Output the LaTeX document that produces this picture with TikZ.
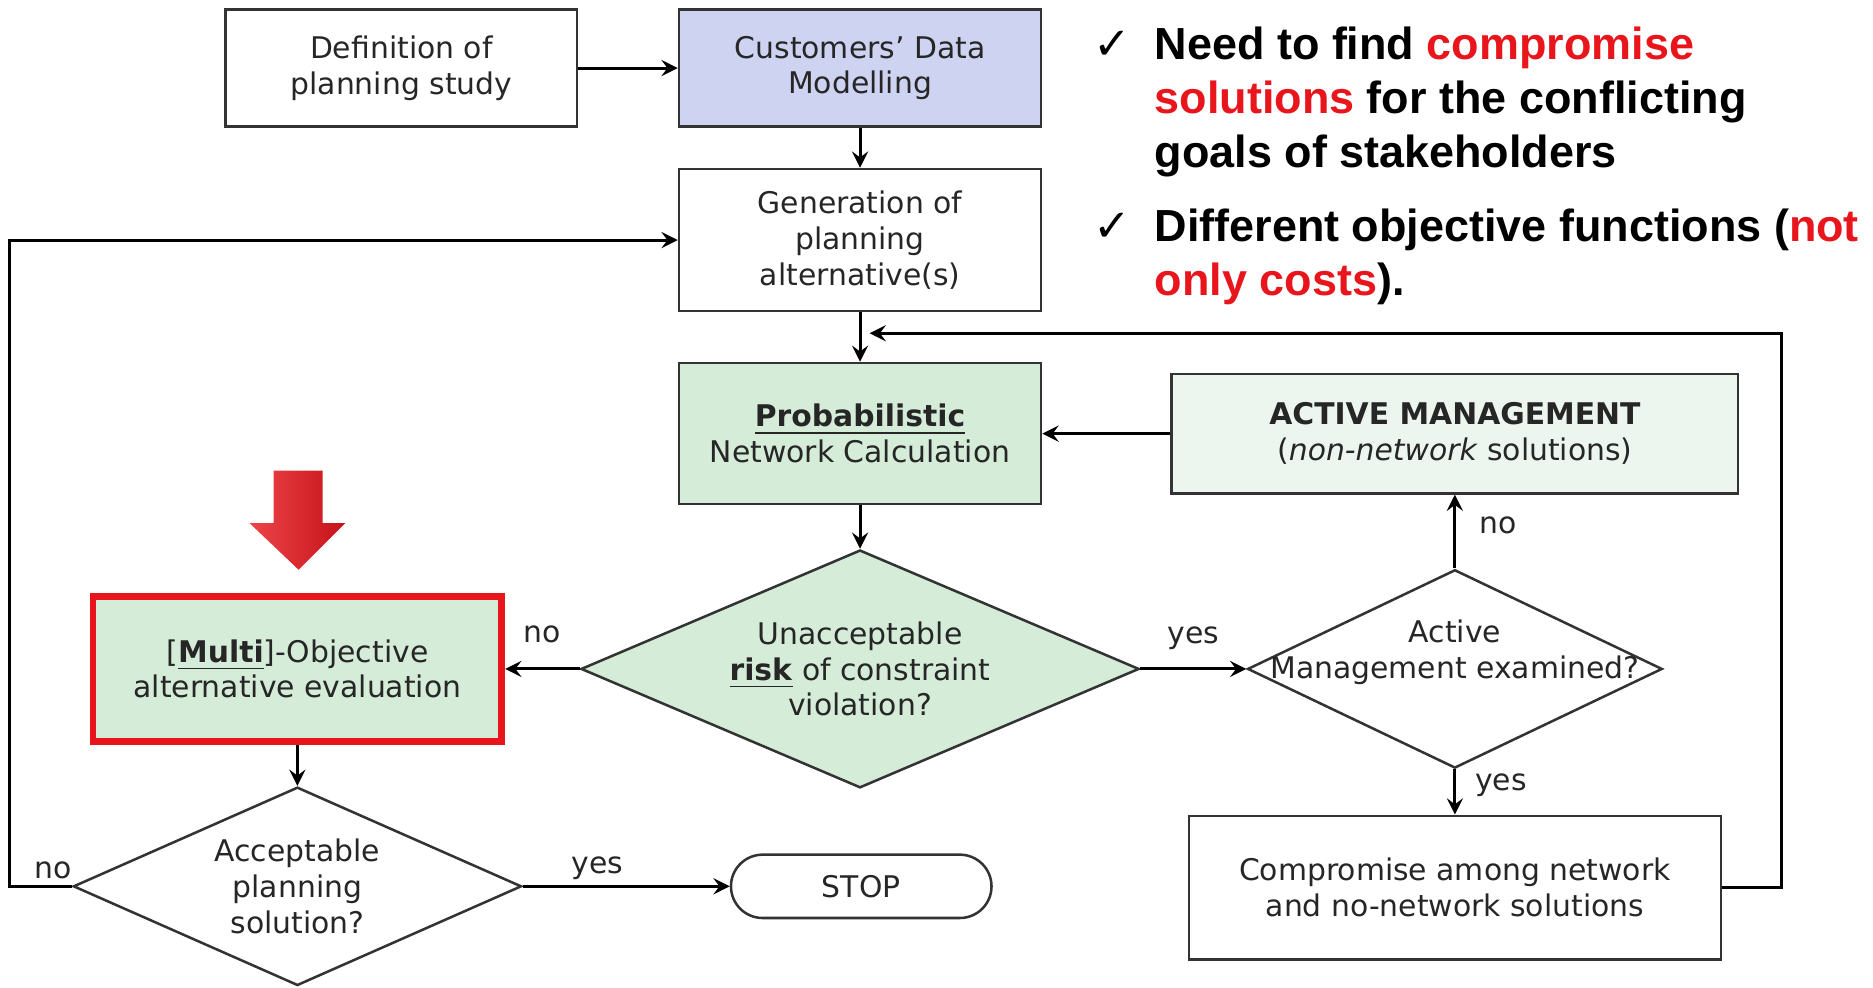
\documentclass[tikz,border=0pt]{standalone}
\usepackage{fontspec}
\setmainfont{DejaVu Sans}
\newfontfamily\notefont{Liberation Sans}
\usetikzlibrary{shapes.geometric, arrows}
\definecolor{lavender}{RGB}{205,211,240}
\definecolor{calcgreen}{RGB}{212,236,216}
\definecolor{palegreen}{RGB}{236,246,238}
\definecolor{alertred}{RGB}{232,22,28}
\tikzstyle{process} = [rectangle, draw=black!80, line width=0.6pt, align=center, inner sep=0pt, text=black!85]
\tikzstyle{decision} = [diamond, draw=black!80, line width=0.6pt, inner sep=0pt]
\tikzstyle{startstop} = [rectangle, rounded corners=0.265cm, draw=black!80, line width=0.6pt, text=black!85]
\tikzstyle{note} = [align=left, inner sep=0pt, anchor=north west, font=\notefont\bfseries\fontsize{10.7}{12.8}\selectfont]
\tikzstyle{answer} = [text=black!85]
\tikzstyle{edge} = [line width=0.7pt, ->, >=stealth]

\begin{document}
\begin{tikzpicture}[x=0.01cm, y=-0.01cm, font=\fontsize{7.1}{8.5}\selectfont]
\useasboundingbox (0,0) rectangle (1568,827);

\node (def) [process, minimum width=2.94cm, minimum height=0.98cm] at (336,57) {Definition of\\planning study};
\node (cust) [process, fill=lavender, minimum width=3.03cm, minimum height=0.98cm] at (720,57) {Customers’ Data\\Modelling};
\node (gen) [process, minimum width=3.03cm, minimum height=1.19cm] at (720,201) {Generation of\\planning\\alternative(s)};
\node (prob) [process, fill=calcgreen, minimum width=3.03cm, minimum height=1.18cm] at (720,363) {\underline{\textbf{Probabilistic}}\\Network Calculation};
\node (am) [process, fill=palegreen, minimum width=4.74cm, minimum height=1.0cm] at (1218,363) {\textbf{ACTIVE MANAGEMENT}\\(\textit{non-network} solutions)};
\node (risk) [decision, fill=calcgreen, minimum width=4.67cm, minimum height=1.99cm,
  label={[align=center, answer]center:Unacceptable\\\underline{\textbf{risk}} of constraint\\violation?}] at (720,560) {};
\node (exam) [decision, minimum width=3.47cm, minimum height=1.66cm,
  label={[align=center, answer, yshift=0.14cm]center:Active\\Management examined?}] at (1218,560) {};
\node (comp) [process, minimum width=4.45cm, minimum height=1.2cm] at (1218,743) {Compromise among network\\and no-network solutions};
\node (multi) [process, fill=calcgreen, draw=alertred, line width=1.6pt, minimum width=3.42cm, minimum height=1.21cm] at (249,560) {[\underline{\textbf{Multi}}]-Objective\\alternative evaluation};
\node (accept) [decision, minimum width=3.75cm, minimum height=1.66cm,
  label={[align=center, answer]center:Acceptable\\planning\\solution?}] at (249,742) {};
\node (stop) [startstop, minimum width=2.18cm, minimum height=0.53cm] at (721,742) {STOP};
\coordinate (join) at (728,279);

% remarks
\node (goals) [note] at (966,22) {\llap{{\rmfamily\mdseries ✓}\hspace{0.2cm}}Need to find \textcolor{alertred}{compromise}\\\textcolor{alertred}{solutions} for the conflicting\\goals of stakeholders};
\node (costs) [note] at (966,174) {\llap{{\rmfamily\mdseries ✓}\hspace{0.2cm}}Different objective functions (\textcolor{alertred}{not}\\\textcolor{alertred}{only costs}).};

% red marker arrow
\shade[left color=alertred!80!white, middle color=alertred, right color=alertred!85!black]
  (229,394) -- (270,394) -- (270,438) -- (289,438) -- (250,477) -- (209,438) -- (229,438) -- cycle;

\draw [edge] (def) -- (cust);
\draw [edge] (cust) -- (gen);
\draw [edge] (gen) -- (prob);
\draw [edge] (prob) -- (risk);
\draw [edge] (risk) -- node[answer, above, yshift=0.09cm]{no} (multi);
\draw [edge] (risk) -- node[answer, above, yshift=0.03cm]{yes} (exam);
\draw [edge] (exam) -- node[answer, right, xshift=0.08cm, yshift=0.05cm]{no} (am);
\draw [edge] (exam) -- node[answer, right, xshift=0.04cm, yshift=0.06cm]{yes} (comp);
\draw [edge] (am) -- (prob);
\draw [edge] (multi) -- (accept);
\draw [edge] (accept) -- node[answer, above, pos=0.36, yshift=-0.07cm]{yes} (stop);
\draw [edge] (accept.west) -- node[answer, above, pos=0.3, yshift=-0.07cm]{no} ++(-52,0) |- (gen.west);
\draw [edge] (comp.east) -- ++(50,0) |- (join);

\end{tikzpicture}
\end{document}
